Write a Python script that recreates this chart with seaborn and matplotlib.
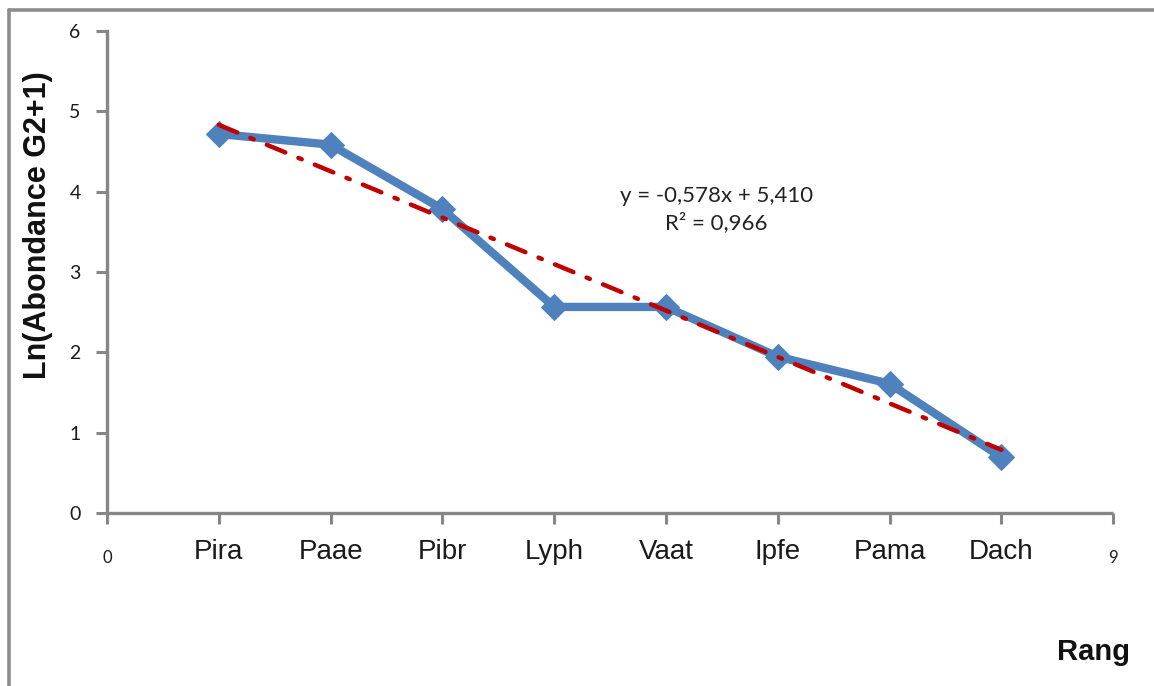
import numpy as np
import pandas as pd
import matplotlib
matplotlib.use("Agg")
import matplotlib.pyplot as plt
from matplotlib.lines import Line2D
import seaborn as sns

# Species ranked by abundance (group G2)
species = ["Pira", "Paae", "Pibr", "Lyph", "Vaat", "Ipfe", "Pama", "Dach"]
rank = [1, 2, 3, 4, 5, 6, 7, 8]
ln_abundance = [4.718, 4.585, 3.784, 2.565, 2.565, 1.946, 1.609, 0.693]

# Linear trend line coefficients
slope = -0.578
intercept = 5.410
r_squared = 0.966

sns.set_theme(style="white")
plt.rcParams["font.family"] = ["Liberation Sans", "DejaVu Sans"]

fig = plt.figure(figsize=(11.54, 6.86), dpi=100)
ax = fig.add_axes([0.0927, 0.2522, 0.872, 0.7026])

df = pd.DataFrame({"rank": rank, "value": ln_abundance})
trend = pd.DataFrame({"rank": rank,
                      "value": [slope * r + intercept for r in rank]})

sns.lineplot(data=df, x="rank", y="value", ax=ax, color="#4F81BD",
             linewidth=6, marker="D", markersize=13,
             markeredgecolor="#4F81BD", zorder=2)
sns.lineplot(data=trend, x="rank", y="value", ax=ax, color="#C00000",
             linewidth=3.2, zorder=3, dashes=False)
trend_line = ax.lines[-1]
trend_line.set_dashes((4.5, 3.2, 0.8, 3.2))
trend_line.set_dash_capstyle("round")

ax.set_xlim(0, 9)
ax.set_ylim(0, 6)
ax.set_xticks(range(0, 10))
ax.set_xticklabels(["0"] + species + ["9"])
ax.set_yticks(range(0, 7))
ax.set_yticklabels([str(v) for v in range(0, 7)],
                   fontfamily="Lato", fontsize=14)

for i, lab in enumerate(ax.get_xticklabels()):
    lab.set_verticalalignment("center")
    if i in (0, 9):
        lab.set_fontsize(12)
        lab.set_fontfamily("Lato")
        lab.set_y(-0.012)
    else:
        lab.set_fontsize(20)

ax.tick_params(axis="x", direction="out", length=8, width=2.2,
               color="#868686", pad=20, labelcolor="#1a1a1a")
ax.tick_params(axis="y", direction="out", length=8, width=2.2,
               color="#868686", pad=11, labelcolor="#1a1a1a")
ax.tick_params(bottom=True, left=True)

for side in ("top", "right"):
    ax.spines[side].set_visible(False)
for side in ("left", "bottom"):
    ax.spines[side].set_color("#868686")
    ax.spines[side].set_linewidth(2.4)
ax.spines["bottom"].set_capstyle("butt")

ax.set_xlabel("")
ax.set_ylabel("")

fig.text(0.033, 0.672, "Ln(Abondance G2+1)", rotation=90, fontsize=22,
         fontweight="bold", ha="center", va="center", color="#111111")
fig.text(0.979, 0.05, "Rang", fontsize=21, fontweight="bold",
         ha="right", va="center", color="#111111")

ax.text(5.45, 3.78, f"y = -0,578x + 5,410\nR² = {r_squared:.3f}".replace(".", ","),
        fontfamily="Lato", fontsize=16, ha="center", va="center",
        linespacing=1.35, color="#222222")

# outer chart frame (left and top edges)
fig.add_artist(Line2D([0.0075, 0.0075], [0.0, 0.985], transform=fig.transFigure,
                      color="#8c8c8c", linewidth=2.6))
fig.add_artist(Line2D([0.0075, 1.0], [0.985, 0.985], transform=fig.transFigure,
                      color="#8c8c8c", linewidth=2.6))

fig.savefig("out.png", dpi=100)
